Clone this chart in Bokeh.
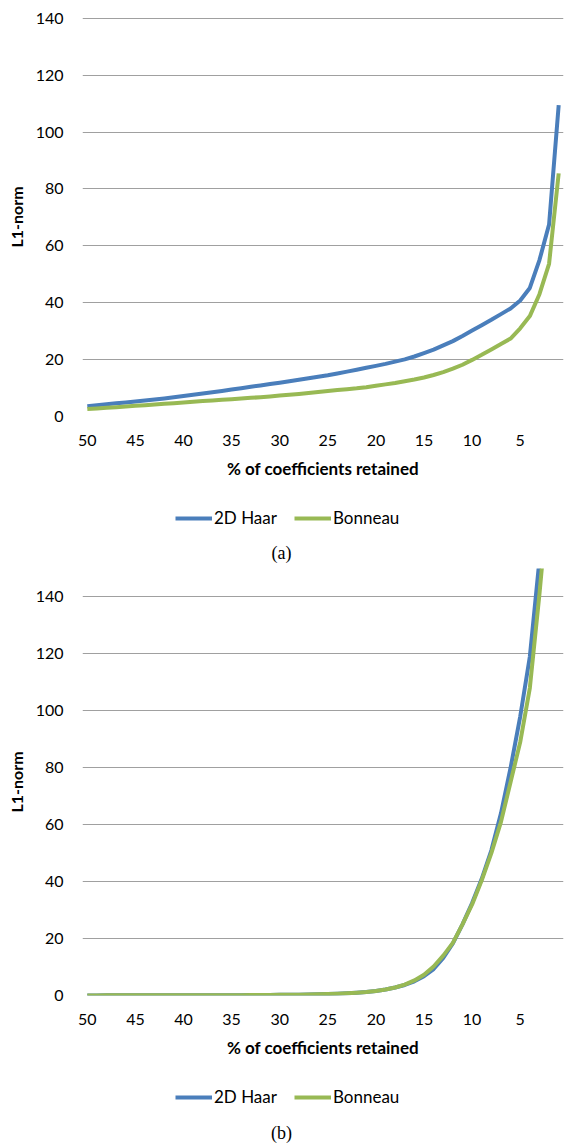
from bokeh.plotting import figure
from bokeh.models import Range1d, FixedTicker, Legend, LegendItem, ColumnDataSource, Label
from bokeh.layouts import column
from bokeh.embed import file_html
from bokeh.resources import INLINE

# ---- data ----
categories = list(range(50, 0, -1))          # % of coefficients retained
x_ticks = [50, 45, 40, 35, 30, 25, 20, 15, 10, 5]
y_ticks = [0, 20, 40, 60, 80, 100, 120, 140]
series_names = ["2D Haar", "Bonneau"]
captions = ["(a)", "(b)"]
x_title = "% of coefficients retained"
y_title = "L1-norm"

haar_a = [3.6, 3.94, 4.28, 4.62, 4.96, 5.3, 5.64, 5.98, 6.36, 6.78,
          7.22, 7.66, 8.1, 8.55, 9.0, 9.5, 9.97, 10.45, 10.93, 11.41,
          11.9, 12.42, 12.94, 13.46, 13.98, 14.5, 15.14, 15.78, 16.44, 17.12,
          17.8, 18.5, 19.3, 20.1, 21.1, 22.3, 23.5, 25.0, 26.5, 28.3,
          30.2, 32.1, 34.0, 36.0, 38.0, 40.8, 45.2, 55.0, 67.5, 109.5]
bonneau_a = [2.6, 2.83, 3.06, 3.29, 3.52, 3.75, 3.98, 4.21, 4.45, 4.69,
             4.93, 5.17, 5.41, 5.65, 5.88, 6.1, 6.33, 6.56, 6.8, 7.05,
             7.35, 7.65, 7.95, 8.3, 8.65, 9.0, 9.3, 9.6, 9.9, 10.3,
             10.8, 11.3, 11.8, 12.4, 13.0, 13.7, 14.6, 15.6, 16.8, 18.2,
             19.9, 21.7, 23.6, 25.5, 27.4, 31.0, 35.3, 43.0, 53.7, 85.5]
haar_b = [0.04, 0.04, 0.05, 0.05, 0.05, 0.06, 0.06, 0.07, 0.07, 0.08,
          0.08, 0.09, 0.1, 0.1, 0.11, 0.12, 0.13, 0.14, 0.16, 0.18,
          0.22, 0.26, 0.3, 0.36, 0.43, 0.52, 0.64, 0.8, 1.0, 1.22,
          1.6, 2.1, 2.8, 3.7, 5.0, 6.8, 9.3, 13.2, 18.3, 25.0,
          32.5, 41.0, 51.0, 64.0, 80.0, 98.0, 119.0, 153.0, 205.0, 290.0]
bonneau_b = [0.04, 0.04, 0.05, 0.05, 0.05, 0.06, 0.06, 0.07, 0.07, 0.08,
             0.08, 0.09, 0.1, 0.1, 0.11, 0.12, 0.13, 0.14, 0.16, 0.18,
             0.22, 0.26, 0.3, 0.36, 0.43, 0.52, 0.64, 0.8, 1.0, 1.22,
             1.6, 2.1, 2.8, 3.8, 5.3, 7.3, 10.2, 14.0, 18.5, 25.0,
             32.0, 40.5, 50.0, 61.0, 75.0, 89.0, 108.0, 141.0, 178.0, 260.0]

BLUE = "#4A7EBB"
GREEN = "#98B954"
GRID = "#A0A0A0"
FONT = "Lato"
FS = "16px"
FS_TITLE = "17px"
W = 564
FRAME_LEFT = 82


def make_chart(src, ymax, frame_h, b_top):
    p = figure(frame_width=481, frame_height=frame_h, output_backend="svg",
               toolbar_location=None,
               x_range=Range1d(50.5, 0.5), y_range=Range1d(0, ymax),
               min_border_left=FRAME_LEFT, min_border_right=1,
               min_border_top=b_top, min_border_bottom=66)
    p.outline_line_color = None
    p.line("x", "haar", source=src, line_color=BLUE, line_width=4, line_join="round")
    p.line("x", "bonneau", source=src, line_color=GREEN, line_width=4, line_join="round")

    xa = p.xaxis[0]
    xa.ticker = FixedTicker(ticks=x_ticks)
    xa.axis_line_color = None
    xa.major_tick_line_color = None
    xa.minor_tick_line_color = None
    xa.major_tick_out = 0
    xa.major_tick_in = 0
    xa.minor_tick_out = 0
    xa.major_label_standoff = 18
    xa.major_label_text_font = FONT
    xa.major_label_text_font_size = FS
    xa.major_label_text_color = "black"
    xa.axis_label = x_title
    xa.axis_label_text_font = FONT
    xa.axis_label_text_font_size = FS_TITLE
    xa.axis_label_text_font_style = "bold"
    xa.axis_label_text_color = "black"
    xa.axis_label_standoff = 9

    ya = p.yaxis[0]
    ya.ticker = FixedTicker(ticks=y_ticks)
    ya.axis_line_color = None
    ya.major_tick_line_color = None
    ya.minor_tick_line_color = None
    ya.major_tick_out = 0
    ya.major_tick_in = 0
    ya.minor_tick_out = 0
    ya.major_label_standoff = 19
    ya.major_label_text_font = FONT
    ya.major_label_text_font_size = FS
    ya.major_label_text_color = "black"
    ya.axis_label = y_title
    ya.axis_label_text_font = FONT
    ya.axis_label_text_font_size = FS
    ya.axis_label_text_font_style = "bold"
    ya.axis_label_text_color = "black"
    ya.axis_label_standoff = 7

    p.xgrid.visible = False
    p.ygrid.ticker = FixedTicker(ticks=y_ticks)
    p.ygrid.grid_line_color = GRID
    p.ygrid.grid_line_width = 1
    return p


def make_key(src, caption, height, legend_bottom, caption_y):
    # strip holding the legend and the caption; the series are drawn off-range
    k = figure(width=W, height=height, output_backend="svg", toolbar_location=None,
               x_range=Range1d(1000, 2000), y_range=Range1d(1000, 2000),
               min_border=0, x_axis_location=None, y_axis_location=None)
    k.outline_line_color = None
    k.grid.visible = False
    r1 = k.line("x", "haar", source=src, line_color=BLUE, line_width=4)
    r2 = k.line("x", "bonneau", source=src, line_color=GREEN, line_width=4)
    legend = Legend(items=[LegendItem(label=series_names[0], renderers=[r1]),
                           LegendItem(label=series_names[1], renderers=[r2])],
                    orientation="horizontal", location=(175 - FRAME_LEFT, legend_bottom),
                    border_line_color=None, background_fill_alpha=0,
                    padding=0, margin=0, spacing=17,
                    glyph_width=37, glyph_height=20, label_standoff=2,
                    label_height=20,
                    label_text_font=FONT, label_text_font_size=FS_TITLE,
                    label_text_color="black")
    k.add_layout(legend, "center")
    cap = Label(x=281 - FRAME_LEFT, y=caption_y, x_units="screen", y_units="screen",
                text=caption, text_align="center", text_baseline="middle",
                text_font="Liberation Serif", text_font_size="18px", text_color="black")
    k.add_layout(cap)
    return k


src_a = ColumnDataSource(dict(x=categories, haar=haar_a, bonneau=bonneau_a))
src_b = ColumnDataSource(dict(x=categories, haar=haar_b, bonneau=bonneau_b))

p1 = make_chart(src_a, 140.3, 399, 17)
k1 = make_key(src_a, captions[0], 82, 36, 12)
p2 = make_chart(src_b, 150, 427, 4)
k2 = make_key(src_b, captions[1], 82, 36, 11)

layout = column(p1, k1, p2, k2, spacing=0)
open("out.html", "w").write(file_html(layout, INLINE))
